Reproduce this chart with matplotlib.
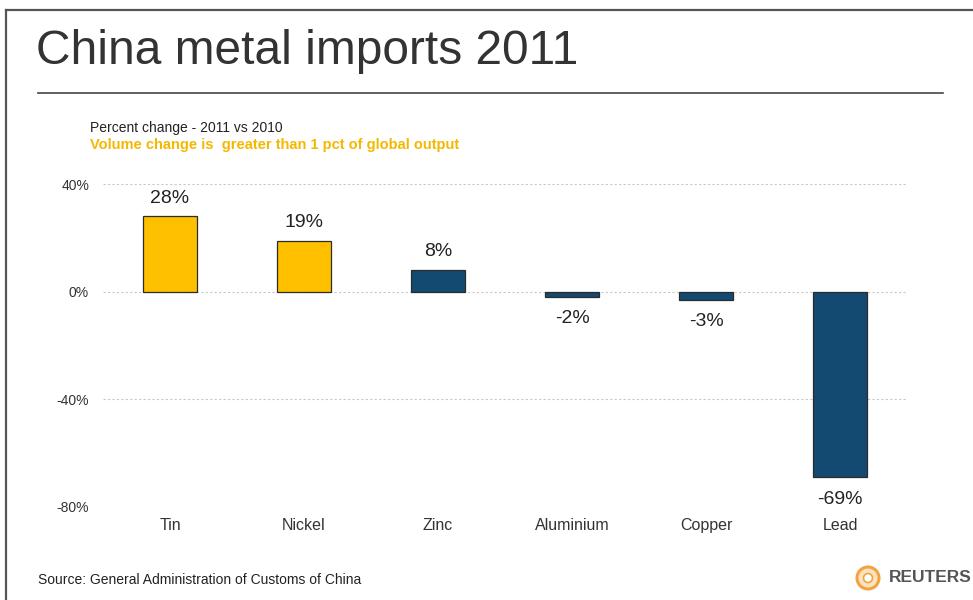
import matplotlib.pyplot as plt
from matplotlib.patches import Circle
from matplotlib.lines import Line2D

metals = ['Tin', 'Nickel', 'Zinc', 'Aluminium', 'Copper', 'Lead']
change = [28, 19, 8, -2, -3, -69]
big_volume = [True, True, False, False, False, False]
yticks = [40, 0, -40, -80]

yellow = '#FFC000'
navy = '#124A72'
plt.rcParams['font.family'] = ['Liberation Sans', 'DejaVu Sans']

fig = plt.figure(figsize=(9.73, 6), dpi=100)
W, H = 973, 600

def fx(px):
    return px / W

def fy(py):
    return 1 - py / H

# frame and rule
fig.add_artist(Line2D([fx(6), fx(6)], [fy(10), fy(600)], color='#555555', lw=1.6))
fig.add_artist(Line2D([fx(6), fx(973)], [fy(10), fy(10)], color='#555555', lw=1.6))
fig.add_artist(Line2D([fx(38), fx(943)], [fy(93), fy(93)], color='#444444', lw=1.2))

fig.text(fx(36), fy(52), 'China metal imports 2011', fontsize=34.5, color='#333333',
         va='center', ha='left')
fig.text(fx(90), fy(128), 'Percent change - 2011 vs 2010', fontsize=10, color='#222222',
         va='center')
fig.text(fx(90), fy(145), 'Volume change is  greater than 1 pct of global output', fontsize=10.5,
         color='#F5B800', va='center', weight='bold')
fig.text(fx(38), fy(580), 'Source: General Administration of Customs of China', fontsize=10,
         color='#222222', va='center')

# reuters mark
fig.add_artist(Circle((868 / 100, (H - 578) / 100), 0.11, transform=fig.dpi_scale_trans,
                      facecolor='#FBE3BE', edgecolor='#F2A444', lw=2.2))
fig.add_artist(Circle((868 / 100, (H - 578) / 100), 0.045, transform=fig.dpi_scale_trans,
                      facecolor='white', edgecolor='#F2A444', lw=1.2))
fig.text(fx(889), fy(578), 'REUTERS', fontsize=12.5, color='#555555', weight='bold', va='center')

# axes: 40% at y=184, -80% at y=507, x from 103 to 907
ax = fig.add_axes([fx(103), fy(507), fx(907 - 103), (507 - 184) / H])
colors = [yellow if b else navy for b in big_volume]
x = range(len(metals))
ax.bar(x, change, width=0.4, color=colors, edgecolor='#2b2b2b', linewidth=0.9, zorder=3)

for i, v in enumerate(change):
    if v >= 0:
        ax.annotate(f'{v}%', (i, v), xytext=(0, 7), textcoords='offset points',
                    ha='center', va='bottom', fontsize=14, color='#222222')
    else:
        ax.annotate(f'{v}%', (i, v), xytext=(0, -9.5), textcoords='offset points',
                    ha='center', va='top', fontsize=14, color='#222222')

ax.set_xlim(-0.5, len(metals) - 0.5)
ax.set_ylim(-80, 40)
ax.set_yticks(yticks)
ax.set_yticklabels([f'{t}%' for t in yticks], fontsize=10, color='#333333')
ax.set_xticks(list(x))
ax.set_xticklabels(metals, fontsize=11.5, color='#333333')
ax.tick_params(axis='both', length=0)
ax.tick_params(axis='y', pad=10)
ax.tick_params(axis='x', pad=8)
ax.yaxis.grid(True, color='#c8c8c8', linestyle=(0, (2, 2)), lw=0.8, zorder=0)
ax.set_axisbelow(True)
for s in ax.spines.values():
    s.set_visible(False)
ax.set_facecolor('none')

fig.savefig('out.png', dpi=100)
